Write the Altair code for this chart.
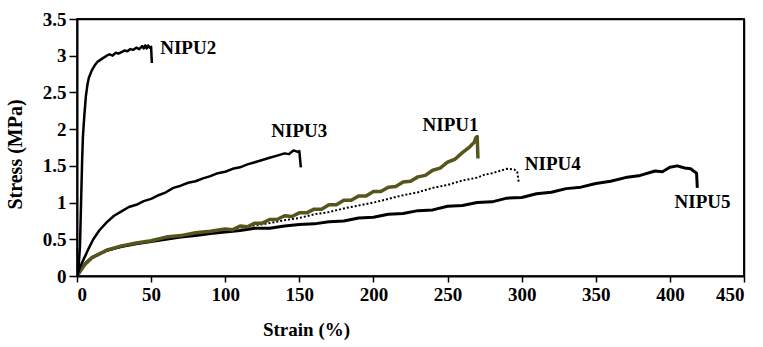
import altair as alt
import pandas as pd

# NIPU2
n2_x = [0, 1, 2, 2.5, 3, 3.5, 4, 5, 6, 7, 8, 10, 12, 14, 17, 20, 22, 24, 26, 28, 30, 32, 34, 36, 38, 40, 42, 44, 45, 46, 47, 48, 49, 50, 50.5]
n2_y = [0, 0.1, 0.4, 0.8, 1.2, 1.6, 1.9, 2.2, 2.45, 2.6, 2.7, 2.8, 2.87, 2.92, 2.96, 3.0, 3.02, 3.0, 3.04, 3.03, 3.05, 3.07, 3.06, 3.09, 3.08, 3.11, 3.09, 3.13, 3.1, 3.14, 3.1, 3.14, 3.11, 3.12, 2.9]

# NIPU3
n3_x = [0, 2, 5, 8, 11, 15, 20, 25, 30, 35, 40, 45, 50, 55, 60, 65, 70, 75, 80, 85, 90, 95, 100, 105, 110, 115, 120, 125, 130, 135, 140, 143, 146, 149, 150, 151]
n3_y = [0, 0.12, 0.25, 0.38, 0.5, 0.62, 0.73, 0.82, 0.88, 0.94, 0.97, 1.02, 1.05, 1.1, 1.14, 1.2, 1.23, 1.27, 1.29, 1.33, 1.36, 1.4, 1.42, 1.46, 1.48, 1.52, 1.55, 1.58, 1.61, 1.64, 1.67, 1.66, 1.71, 1.69, 1.7, 1.48]

# NIPU1
n1_x = [0, 5, 10, 20, 30, 40, 50, 60, 70, 80, 90, 100, 105, 110, 115, 120, 125, 130, 135, 140, 145, 150, 155, 160, 165, 170, 175, 180, 185, 190, 195, 200, 205, 210, 215, 220, 225, 230, 235, 240, 245, 250, 255, 260, 265, 268, 269, 270, 270.5]
n1_y = [0, 0.15, 0.25, 0.35, 0.41, 0.45, 0.48, 0.53, 0.55, 0.59, 0.61, 0.64, 0.63, 0.68, 0.67, 0.72, 0.72, 0.77, 0.77, 0.82, 0.81, 0.86, 0.86, 0.91, 0.91, 0.97, 0.97, 1.03, 1.03, 1.09, 1.09, 1.15, 1.15, 1.21, 1.22, 1.28, 1.29, 1.35, 1.37, 1.44, 1.47, 1.55, 1.59, 1.68, 1.76, 1.82, 1.88, 1.9, 1.6]

# NIPU4
n4_x = [0, 5, 10, 20, 30, 40, 50, 60, 70, 80, 90, 100, 110, 120, 130, 140, 150, 160, 170, 180, 190, 200, 210, 220, 230, 240, 250, 260, 270, 275, 280, 285, 290, 295, 297, 298]
n4_y = [0, 0.14, 0.24, 0.34, 0.4, 0.44, 0.48, 0.51, 0.55, 0.57, 0.6, 0.62, 0.66, 0.69, 0.72, 0.76, 0.79, 0.84, 0.87, 0.92, 0.96, 1.0, 1.05, 1.1, 1.14, 1.2, 1.24, 1.3, 1.34, 1.38, 1.4, 1.43, 1.46, 1.45, 1.42, 1.28]

# NIPU5
n5_x = [0, 3, 6, 10, 15, 20, 30, 40, 50, 60, 70, 80, 90, 100, 110, 120, 130, 140, 150, 160, 170, 180, 190, 200, 210, 220, 230, 240, 250, 260, 270, 280, 290, 300, 310, 320, 330, 340, 350, 360, 370, 380, 390, 395, 400, 405, 410, 414, 418, 418.5]
n5_y = [0, 0.1, 0.18, 0.25, 0.3, 0.35, 0.4, 0.44, 0.47, 0.5, 0.53, 0.55, 0.58, 0.6, 0.62, 0.65, 0.65, 0.68, 0.7, 0.71, 0.74, 0.75, 0.79, 0.8, 0.84, 0.85, 0.89, 0.9, 0.95, 0.96, 1.0, 1.01, 1.06, 1.07, 1.12, 1.14, 1.19, 1.21, 1.26, 1.29, 1.34, 1.37, 1.43, 1.42, 1.48, 1.5, 1.47, 1.46, 1.4, 1.2]

x_ticks = [0, 50, 100, 150, 200, 250, 300, 350, 400, 450]
y_ticks = [0, 0.5, 1, 1.5, 2, 2.5, 3, 3.5]

# frame corners (top and right edges of the plot box, at the axis limits)
box_x = [0, 450, 450]
box_y = [3.5, 3.5, 0]

label_text = ["NIPU2", "NIPU3", "NIPU1", "NIPU4", "NIPU5"]
label_x = [75, 150, 252, 321, 422]
label_y = [3.1, 1.98, 2.06, 1.52, 1.01]

W, H = 667, 257

def frame(xs, ys, name):
    return pd.DataFrame({"strain": xs, "stress": ys, "s": name, "o": range(len(xs))})

FONT = "Liberation Serif"
xs = alt.Scale(domain=[0, 450], nice=False, zero=False)
ys = alt.Scale(domain=[0, 3.5], nice=False, zero=False)

x_axis = alt.Axis(
    values=x_ticks, format="d", labelOverlap=False,
    title="Strain (%)", titleX=229, titleY=53, titleBaseline="middle",
    titleAlign="center", labelFontSize=19, labelFontWeight="bold",
    labelFont=FONT, titleFont=FONT, titleFontSize=19, titleFontWeight="bold",
    tickSize=6, tickWidth=1.5, domainWidth=2, domainColor="black",
    tickColor="black", labelColor="black", titleColor="black",
    labelPadding=3, grid=False)
y_axis = alt.Axis(
    values=y_ticks, format="~g", labelOverlap=False,
    title="Stress (MPa)", titleX=-62, titleY=135, titleAngle=270,
    titleAlign="center", titleBaseline="middle",
    labelFontSize=19, labelFontWeight="bold", labelFont=FONT,
    titleFont=FONT, titleFontSize=20, titleFontWeight="bold",
    tickSize=8, tickWidth=1.5, domainWidth=2, domainColor="black",
    tickColor="black", labelColor="black", titleColor="black",
    labelPadding=3, grid=False)

# bare axes on top and right, used only to close the plot box
top_axis = alt.Axis(orient="top", labels=False, ticks=False, title=None,
                    domain=True, domainColor="black", domainWidth=1.5, grid=False)
right_axis = alt.Axis(orient="right", labels=False, ticks=False, title=None,
                      domain=True, domainColor="black", domainWidth=1.5, grid=False)

def line(df, color, width, dash=None):
    kw = dict(color=color, strokeWidth=width, clip=True, strokeJoin="round")
    if dash is not None:
        kw["strokeDash"] = dash
    return alt.Chart(df).mark_line(**kw).encode(
        x=alt.X("strain:Q", scale=xs, axis=x_axis),
        y=alt.Y("stress:Q", scale=ys, axis=y_axis),
        order="o:Q",
    )

curves = [
    line(frame(n5_x, n5_y, "NIPU5"), "black", 3),
    line(frame(n4_x, n4_y, "NIPU4"), "black", 2, [2, 2]),
    line(frame(n1_x, n1_y, "NIPU1"), "#55551c", 3.5),
    line(frame(n3_x, n3_y, "NIPU3"), "black", 2.5),
    line(frame(n2_x, n2_y, "NIPU2"), "black", 2.5),
]

labels = alt.Chart(pd.DataFrame({"t": label_text, "x": label_x, "y": label_y})).mark_text(
    font=FONT, fontSize=19, fontWeight="bold", color="black", align="center", baseline="middle"
).encode(x=alt.X("x:Q", scale=xs, axis=x_axis), y=alt.Y("y:Q", scale=ys, axis=y_axis), text="t:N")

main = alt.layer(*curves, labels)

box = alt.Chart(frame(box_x, box_y, "box")).mark_line(
    color="black", strokeWidth=1.5, clip=False
).encode(
    x=alt.X("strain:Q", scale=xs, axis=top_axis),
    y=alt.Y("stress:Q", scale=ys, axis=right_axis),
    order="o:Q",
)

chart = alt.layer(main, box).resolve_axis(x="independent", y="independent").properties(
    width=W, height=H,
    autosize=alt.AutoSizeParams(type="none"),
    padding={"left": 77, "top": 19, "right": 19, "bottom": 71},
).configure(
    background="white",
    view=alt.ViewConfig(stroke="black", strokeWidth=1.5),
)

chart.save("out.html", embed_options={"renderer": "svg", "actions": False})
